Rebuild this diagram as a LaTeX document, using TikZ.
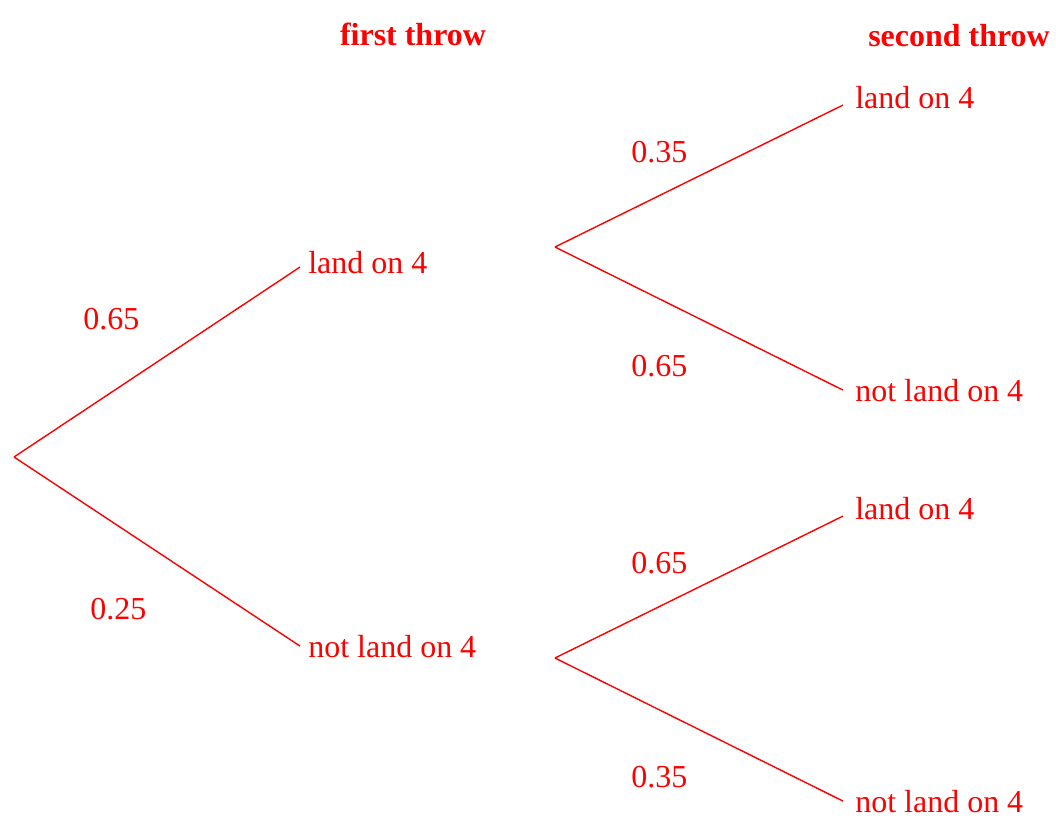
\documentclass[tikz,border=0pt]{standalone}
\usepackage{fontspec}
\setmainfont{Liberation Serif}
\begin{document}
\begin{tikzpicture}[x=0.02cm, y=-0.02cm,
    every node/.style={text=red, font=\fontsize{18.2}{22}\selectfont, inner sep=0pt},
    leaf/.style={anchor=base west, inner xsep=#1},
    leaf/.default=0.16cm,
    prob/.style={anchor=base west},
    head/.style={anchor=base, font=\fontsize{18.2}{22}\selectfont\bfseries},
    branch/.style={red, line width=0.8pt}]
    \useasboundingbox (0, 0) rectangle (1056, 833);
    % 标题
    \node[head] (h1) at (413, 45) {first throw};
    \node[head] (h2) at (959, 46) {second throw};
    % 第一次
    \coordinate (r0) at (14, 457);
    \node[leaf] (a1) at (300, 273) {land on 4};
    \node[leaf] (a2) at (300, 657) {not land on 4};
    \draw[branch] (r0) -- ([yshift=-0.1cm]a1.west);
    \draw[branch] (r0) -- (a2.west);
    \node[prob] (p1) at (83, 329) {0.65};
    \node[prob] (p2) at (90, 619) {0.25};
    % 第二次
    \coordinate (r1) at (555, 247);
    \coordinate (r2) at (555, 658);
    \node[leaf=0.24cm] (b1) at (843, 108) {land on 4};
    \node[leaf=0.24cm] (b2) at (843, 401) {not land on 4};
    \node[leaf=0.24cm] (b3) at (843, 519) {land on 4};
    \node[leaf=0.24cm] (b4) at (843, 812) {not land on 4};
    \draw[branch] (r1) -- ([yshift=-0.16cm]b1.west);
    \draw[branch] (r1) -- (b2.west);
    \draw[branch] (r2) -- ([yshift=-0.16cm]b3.west);
    \draw[branch] (r2) -- (b4.west);
    \node[prob] (q1) at (631, 162) {0.35};
    \node[prob] (q2) at (631, 376) {0.65};
    \node[prob] (q3) at (631, 573) {0.65};
    \node[prob] (q4) at (631, 787) {0.35};
\end{tikzpicture}
\end{document}
